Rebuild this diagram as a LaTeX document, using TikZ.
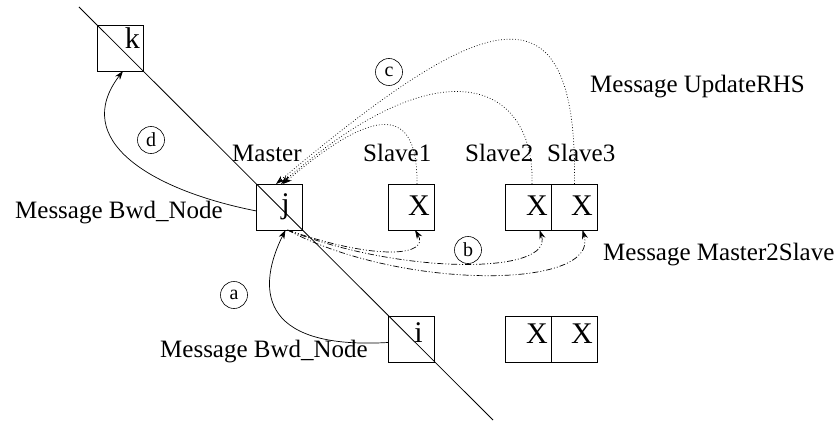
\documentclass[tikz,border=0pt]{standalone}
\usepackage{fontspec}
\setmainfont{Liberation Serif}
\usetikzlibrary{arrows.meta}
\begin{document}
\begin{tikzpicture}[x=1pt,y=-1pt,
  box/.style={draw, line width=0.8pt, minimum size=46pt, inner sep=0pt, outer sep=0pt},
  lett/.style={font=\fontsize{30}{36}\selectfont, inner sep=0pt, anchor=base east},
  lbl/.style={font=\fontsize{25}{30}\selectfont, inner sep=0pt, anchor=base west},
  circ/.style={draw, circle, line width=0.6pt, minimum size=27pt, inner sep=0pt, font=\fontsize{20}{22}\selectfont},
  conn/.style={line width=0.7pt, -{Stealth[length=9pt,width=6pt]}},
  dotl/.style={conn, dash pattern=on 0.8pt off 2pt},
  dashdot/.style={conn, dash pattern=on 6pt off 2pt on 1pt off 2pt on 1pt off 2pt}]
\useasboundingbox (0,0) rectangle (837,422);
% diagonal line
\coordinate (L1) at (79,7);
\coordinate (L2) at (493,420);
\draw[line width=0.8pt] (L1) -- (L2);
% boxes
\node[box] (k) at (120,48) {};
\node[box] (j) at (279.5,207) {};
\node[box] (s1) at (411,207) {};
\node[box] (s2) at (528.5,207) {};
\node[box] (s3) at (574.5,207) {};
\node[box] (i) at (411,339.5) {};
\node[box] (b1) at (528.5,339.5) {};
\node[box] (b2) at (574.5,339.5) {};
% letters
\node[lett] (tk) at (140,49) {k};
\node[lett] (tj) at (290,213) {j};
\node[lett] (ts1) at (430,215) {X};
\node[lett] (ts2) at (548,215) {X};
\node[lett] (ts3) at (593,215) {X};
\node[lett] (ti) at (423,342) {i};
\node[lett] (tb1) at (548,343) {X};
\node[lett] (tb2) at (593,343) {X};
% labels
\node[lbl] (master) at (232,162) {Master};
\node[lbl] (slave1) at (363,162) {Slave1};
\node[lbl] (slave2) at (465,162) {Slave2};
\node[lbl] (slave3) at (547,162) {Slave3};
\node[lbl] (mupd) at (590,93) {Message UpdateRHS};
\node[lbl] (mbwd1) at (15,218) {Message Bwd\_Node};
\node[lbl] (mbwd2) at (160,357) {Message Bwd\_Node};
\node[lbl] (mm2s) at (603,260) {Message Master2Slave};
% circled letters
\node[circ] (cc) at (389,72) {c};
\node[circ] (cd) at (151,140) {d};
\node[circ] (cb) at (468,250) {b};
\node[circ] (ca) at (234,295) {a};
% d: j -> k
\draw[conn] ([yshift=-4pt]j.west) .. controls (150,190) and (70,140) .. ([xshift=3pt]k.south);
% a: i -> j
\draw[conn] ([yshift=-3pt]i.west) .. controls (255,350) and (258,285) .. ([xshift=6pt]j.south);
% b: j -> slaves
\draw[dashdot] ([xshift=8pt]j.south) .. controls (380,262) and (430,255) .. ([xshift=4pt]s1.south);
\draw[dashdot] ([xshift=8pt]j.south) .. controls (400,275) and (555,275) .. ([xshift=11pt]s2.south);
\draw[dashdot] ([xshift=8pt]j.south) .. controls (400,290) and (600,290) .. ([xshift=8pt]s3.south);
% c: slaves -> j
\draw[dotl] ([xshift=6pt]s1.north) .. controls (418,95) and (363,116) .. ([xshift=3.5pt]j.north);
\draw[dotl] ([xshift=3.5pt]s2.north) .. controls (535,85) and (445,40) .. ([xshift=1.5pt]j.north);
\draw[dotl] (s3.north) .. controls (578,-30) and (478,14) .. ([xshift=-3.5pt]j.north);
\end{tikzpicture}
\end{document}
